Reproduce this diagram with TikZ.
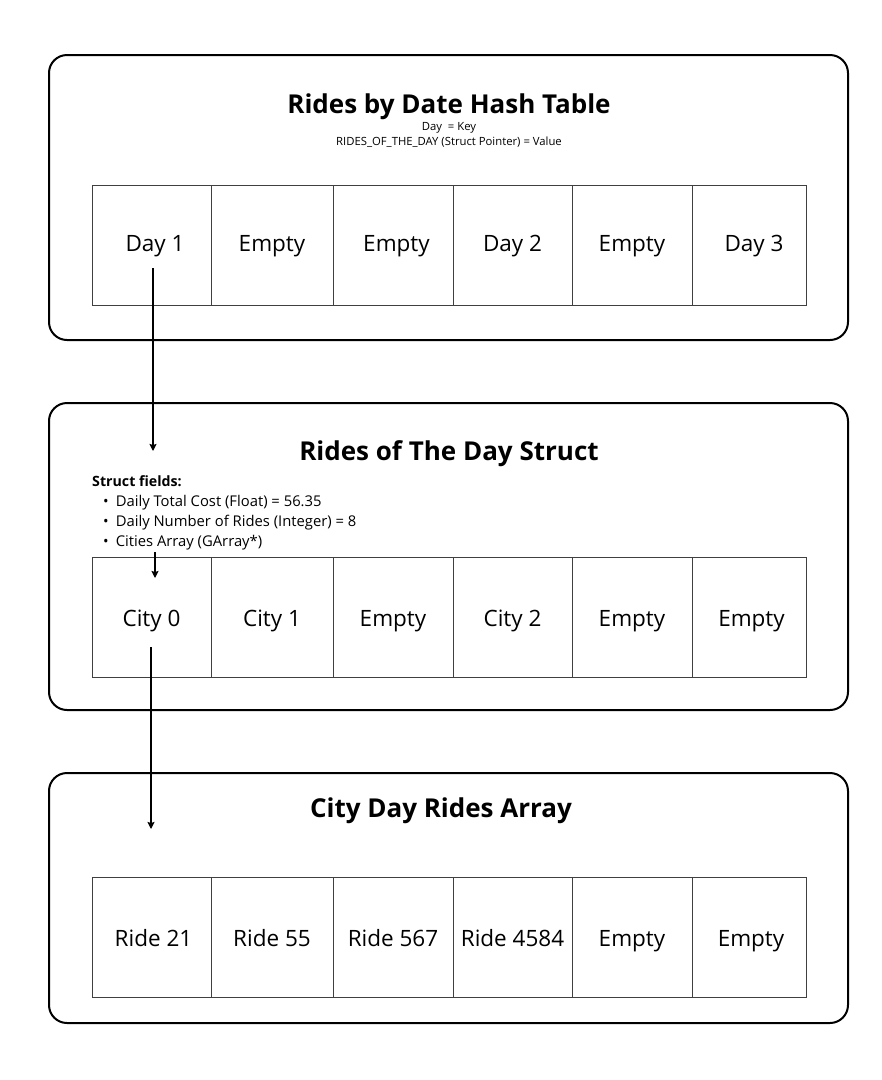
\documentclass[tikz,border=0pt]{standalone}
\usepackage{fontspec}
\setmainfont{Open Sans}
\usetikzlibrary{arrows.meta}
\begin{document}
\begin{tikzpicture}[x=1pt,y=-1pt,
  panel/.style={draw=black,line width=2pt,rounded corners=18pt},
  cell/.style={draw=black!75,line width=1pt,minimum height=120pt,inner sep=0pt,
    text height=18pt,text depth=0pt,font=\fontsize{22.5}{26}\selectfont},
  rowone/.style={text height=16pt,text depth=4pt},
  title/.style={font=\fontsize{26}{30}\selectfont\bfseries,inner sep=0pt,anchor=base},
  small/.style={font=\fontsize{11.3}{13}\selectfont,inner sep=0pt,anchor=base},
  field/.style={font=\fontsize{14.8}{17}\selectfont,inner sep=0pt,anchor=base west},
  ptr/.style={line width=1.8pt,-{Stealth[length=7pt,width=7pt,inset=1pt]}}]
\useasboundingbox (0,0) rectangle (882,1080);
\fill[white] (0,0) rectangle (882,1080);
% panels
\draw[panel] (49,55) rectangle (848,340);
\draw[panel] (49,403) rectangle (848,710);
\draw[panel] (49,773) rectangle (848,1023);
% titles
\node[title] (t1) at (449,113) {Rides by Date Hash Table};
\node[small] (k1) at (449,130) {Day\ \ = Key};
\node[small] (k2) at (449,145) {RIDES\_OF\_THE\_DAY (Struct Pointer) = Value};
\node[title] (t2) at (449,460) {Rides of The Day Struct};
\node[title] (t3) at (441,817) {City Day Rides Array};
% struct fields
\node[field,font=\fontsize{14.2}{16}\selectfont\bfseries] (sf) at (92,486) {Struct fields:};
\node[field] (f1) at (103,506) {•\hspace{7pt}Daily Total Cost (Float) = 56.35};
\node[field] (f2) at (103,526) {•\hspace{7pt}Daily Number of Rides (Integer) = 8};
\node[field] (f3) at (103,546) {•\hspace{7pt}Cities Array (GArray*)};
% table 1
\node[cell,rowone,minimum width=119pt] (a1) at (151.5,245) {\hspace{7pt}Day 1};
\node[cell,rowone,minimum width=122pt] (a2) at (272,245) {Empty};
\node[cell,rowone,minimum width=120pt] (a3) at (393,245) {\hspace{7pt}Empty};
\node[cell,rowone,minimum width=119pt] (a4) at (512.5,245) {Day 2\hspace{8pt}};
\node[cell,rowone,minimum width=120pt] (a5) at (632,245) {Empty};
\node[cell,rowone,minimum width=114pt] (a6) at (749,245) {\hspace{10pt}Day 3};
% table 2
\node[cell,minimum width=119pt] (b1) at (151.5,617) {City 0};
\node[cell,minimum width=122pt] (b2) at (272,617) {City 1};
\node[cell,minimum width=120pt] (b3) at (393,617) {Empty};
\node[cell,minimum width=119pt] (b4) at (512.5,617) {City 2};
\node[cell,minimum width=120pt] (b5) at (632,617) {Empty};
\node[cell,minimum width=114pt] (b6) at (749,617) {\hspace{5pt}Empty};
% table 3
\node[cell,minimum width=119pt] (c1) at (151.5,937) {\hspace{4pt}Ride 21};
\node[cell,minimum width=122pt] (c2) at (272,937) {Ride 55};
\node[cell,minimum width=120pt] (c3) at (393,937) {Ride 567};
\node[cell,minimum width=119pt] (c4) at (512.5,937) {Ride 4584};
\node[cell,minimum width=120pt] (c5) at (632,937) {Empty};
\node[cell,minimum width=114pt] (c6) at (749,937) {\hspace{4pt}Empty};
% pointers
\coordinate (p1) at (153,268);
\coordinate (q1) at (153,451);
\coordinate (p2) at (155,552);
\coordinate (q2) at (155,578);
\coordinate (p3) at (151,647);
\coordinate (q3) at (151,829);
\draw[ptr] (p1) -- (q1);
\draw[ptr] (p2) -- (q2);
\draw[ptr] (p3) -- (q3);
\end{tikzpicture}
\end{document}
